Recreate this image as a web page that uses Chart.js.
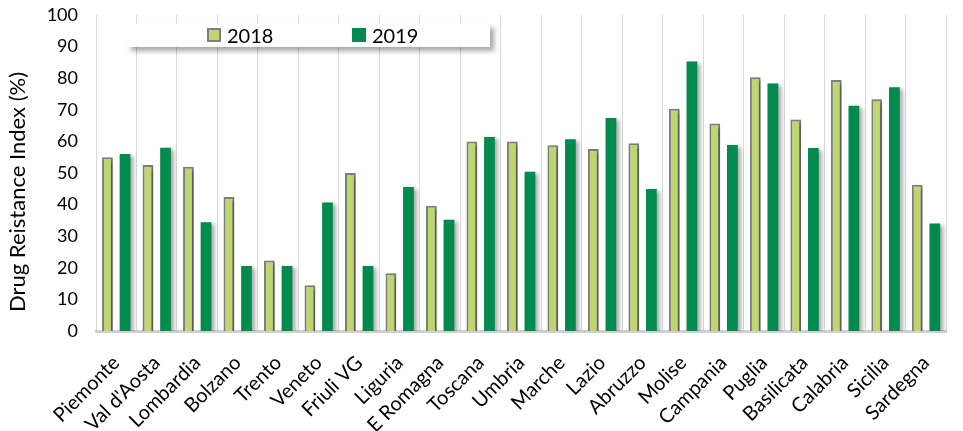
<!DOCTYPE html>
<html>
<head>
<meta charset="utf-8">
<script src="https://cdn.jsdelivr.net/npm/chart.js@4"></script>
<style>
  body { margin: 0; background: #fff; }
  #wrap { position: relative; width: 963px; height: 431px; }
  #legend {
    position: absolute; left: 127px; top: 24px; width: 363px; height: 23px;
    background: #fff; box-shadow: 4px 4px 5px rgba(0,0,0,0.35);
    font-family: Lato, sans-serif; font-size: 20px; color: #000;
  }
  #legend span.sw { position: absolute; top: 4px; width: 12px; height: 12px; }
  #legend span.tx { position: absolute; top: -1px; line-height: 24px; }
</style>
</head>
<body>
<div id="wrap">
  <canvas id="myChart" width="963" height="431"></canvas>
  <div id="legend"></div>
</div>
<script>
var regions = ['Piemonte', "Val d'Aosta", 'Lombardia', 'Bolzano', 'Trento', 'Veneto', 'Friuli VG', 'Liguria', 'E Romagna', 'Toscana', 'Umbria', 'Marche', 'Lazio', 'Abruzzo', 'Molise', 'Campania', 'Puglia', 'Basilicata', 'Calabria', 'Sicilia', 'Sardegna'];
var values2018 = [55, 52.5, 52, 42.4, 22.3, 14.5, 50, 18.3, 39.6, 60, 60, 58.8, 57.6, 59.4, 70.3, 65.7, 80.3, 66.9, 79.4, 73.3, 46.3];
var values2019 = [56, 58, 34.4, 20.6, 20.6, 40.7, 20.6, 45.6, 35.2, 61.4, 50.4, 60.7, 67.4, 44.9, 85.3, 58.9, 78.3, 57.9, 71.3, 77.1, 34];
var yTicks = [0, 10, 20, 30, 40, 50, 60, 70, 80, 90, 100];
var yTitle = 'Drug Reistance Index (%)';

var light = '#bdd66e', dark = '#008a4e';

// legend box (drawn over the plot like in the original)
var legend = document.getElementById('legend');
legend.innerHTML =
  '<span class="sw" style="left:80px;background:' + light + ';border:2px solid #7f7f7f;box-sizing:content-box;width:10px;height:10px"></span>' +
  '<span class="tx" style="left:100px">2018</span>' +
  '<span class="sw" style="left:225px;top:4px;width:14px;height:14px;background:' + dark + '"></span>' +
  '<span class="tx" style="left:245px">2019</span>';

var barShadow = {
  id: 'barShadow',
  beforeDatasetsDraw: function(chart) {
    var c = chart.ctx;
    c.save();
    c.shadowColor = 'rgba(0,0,0,0.35)';
    c.shadowBlur = 4;
    c.shadowOffsetX = 3;
    c.shadowOffsetY = 2;
  },
  afterDatasetsDraw: function(chart) {
    chart.ctx.restore();
  }
};

// y title sits a bit below the middle of the axis in the original
var axisTitle = {
  id: 'axisTitle',
  afterDraw: function(chart) {
    var c = chart.ctx;
    c.save();
    c.translate(18, 192);
    c.rotate(-Math.PI / 2);
    c.font = '22px Lato';
    c.fillStyle = '#000';
    c.textAlign = 'center';
    c.textBaseline = 'middle';
    c.fillText(yTitle, 0, 0);
    c.restore();
  }
};

var ctx = document.getElementById('myChart').getContext('2d');
var chart = new Chart(ctx, {
  type: 'bar',
  data: {
    labels: regions,
    datasets: [{
      label: '2018',
      data: values2018,
      backgroundColor: light,
      borderColor: '#7f7f7f',
      borderWidth: 2,
      borderSkipped: 'bottom'
    }, {
      label: '2019',
      data: values2019,
      backgroundColor: dark,
      borderWidth: 0
    }]
  },
  options: {
    responsive: false,
    animation: false,
    categoryPercentage: 0.87,
    barPercentage: 0.61,
    layout: { padding: { top: 15, left: 0, right: 0, bottom: 0 } },
    plugins: {
      legend: { display: false },
      tooltip: { enabled: false }
    },
    scales: {
      x: {
        grid: { color: '#d9d9d9', lineWidth: 1, drawTicks: false, offset: true },
        border: { color: '#d0d0d0', width: 3 },
        ticks: {
          color: '#000',
          font: { family: 'Lato', size: 20 },
          minRotation: 45, maxRotation: 45,
          padding: 20
        },
        afterFit: function(scale) { scale.height = 100; }
      },
      y: {
        min: 0, max: 100,
        afterBuildTicks: function(scale) {
          scale.ticks = yTicks.map(function(v) { return { value: v }; });
        },
        grid: { display: false },
        border: { display: false },
        ticks: { color: '#000', font: { family: 'Lato', size: 18 }, padding: 10 },
        afterFit: function(scale) {
          scale.width = 96;
          scale.paddingTop = 0;
          scale.paddingBottom = 0;
        }
      }
    }
  },
  plugins: [barShadow, axisTitle]
});
</script>
</body>
</html>
